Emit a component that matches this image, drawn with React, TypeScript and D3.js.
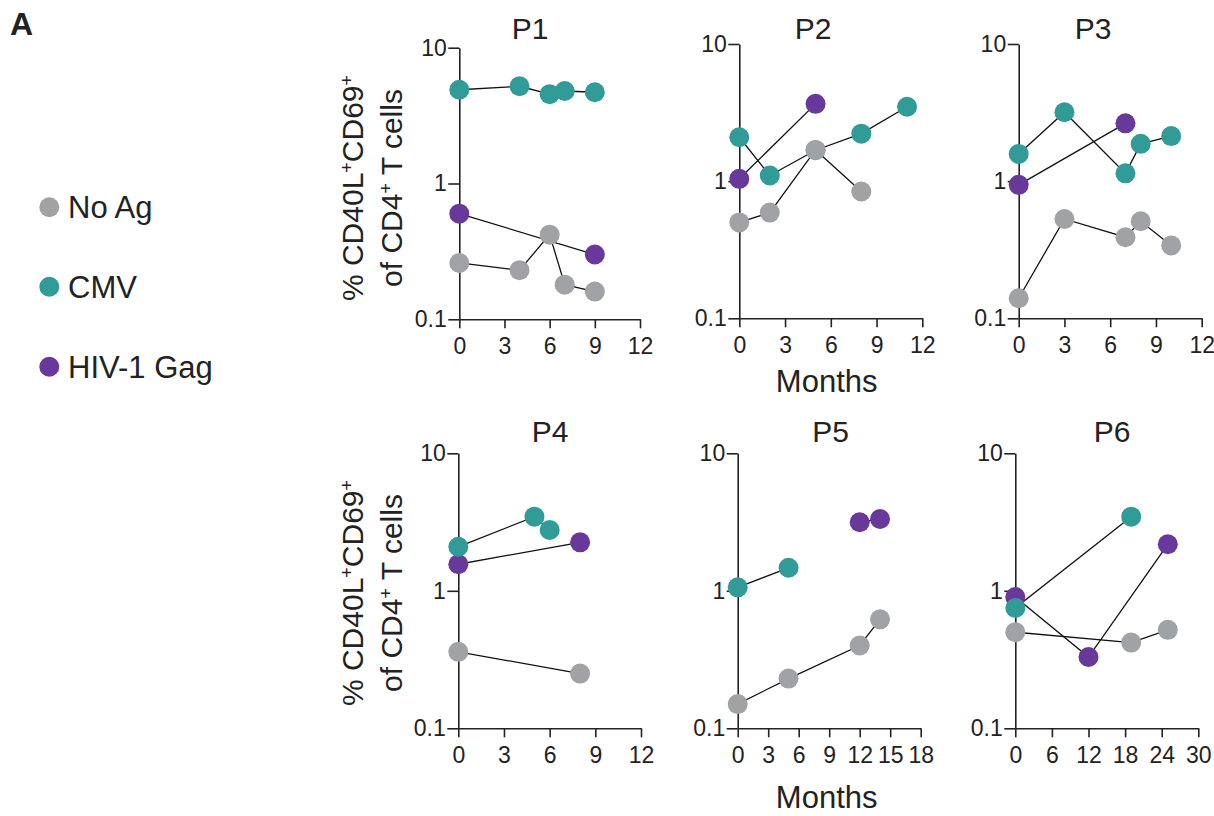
import React, { useEffect, useRef } from 'react';
import * as d3 from 'd3';

// series order = draw order of the markers (grey sits on top)
const seriesNames = ['No Ag', 'CMV', 'HIV-1 Gag'];
const seriesColors = ['#a1a2a6', '#309b97', '#69389b'];
const panelNames = ['P1', 'P2', 'P3', 'P4', 'P5', 'P6'];

// x tick labels (months) per panel
const ticksTo12 = [0, 3, 6, 9, 12];
const ticksTo18 = [0, 3, 6, 9, 12, 15, 18];
const ticksTo30 = [0, 6, 12, 18, 24, 30];
const yTicks = [0.1, 1, 10];

// [month, % CD40L+CD69+ of CD4+ T cells]
const p1NoAg = [[0, 0.26], [4, 0.23], [6, 0.42], [7, 0.18], [9, 0.16]];
const p1Cmv = [[0, 4.9], [4, 5.2], [6, 4.55], [7, 4.8], [9, 4.7]];
const p1Gag = [[0, 0.6], [9, 0.3]];

const p2NoAg = [[0, 0.5], [2, 0.59], [5, 1.69], [8, 0.84]];
const p2Cmv = [[0, 2.09], [2, 1.1], [5, 1.68], [8, 2.22], [11, 3.49]];
const p2Gag = [[0, 1.04], [5, 3.66]];

const p3NoAg = [[0, 0.14], [3, 0.53], [7, 0.39], [8, 0.51], [10, 0.34]];
const p3Cmv = [[0, 1.58], [3, 3.18], [7, 1.14], [8, 1.87], [10, 2.13]];
const p3Gag = [[0, 0.94], [7, 2.64]];

const p4NoAg = [[0, 0.36], [8, 0.25]];
const p4Cmv = [[0, 2.09], [5, 3.46], [6, 2.77]];
const p4Gag = [[0, 1.56], [8, 2.25]];

const p5NoAg = [[0, 0.15], [5, 0.23], [12, 0.4], [14, 0.62]];
const p5Cmv = [[0, 1.06], [5, 1.47]];
const p5Gag = [[12, 3.15], [14, 3.33]];

const p6NoAg = [[0, 0.5], [19, 0.42], [25, 0.52]];
const p6Cmv = [[0, 0.75], [19, 3.46]];
const p6Gag = [[0, 0.9], [12, 0.33], [25, 2.18]];

const panelSeries = [
  [p1NoAg, p1Cmv, p1Gag],
  [p2NoAg, p2Cmv, p2Gag],
  [p3NoAg, p3Cmv, p3Gag],
  [p4NoAg, p4Cmv, p4Gag],
  [p5NoAg, p5Cmv, p5Gag],
  [p6NoAg, p6Cmv, p6Gag],
];
const panelXTicks = [ticksTo12, ticksTo12, ticksTo12, ticksTo12, ticksTo18, ticksTo30];

// plot boxes in page pixels
const layout = [
  { x0: 459.3, x1: 640, y0: 319.3, y1: 47.7, tx: 530, ty: 38.5 },
  { x0: 739.3, x1: 922.3, y0: 318.3, y1: 44, tx: 813, ty: 38.5 },
  { x0: 1018.7, x1: 1201.7, y0: 318.3, y1: 44, tx: 1093, ty: 38.5 },
  { x0: 458.3, x1: 641, y0: 728.3, y1: 453.3, tx: 550, ty: 441.5 },
  { x0: 737.7, x1: 920.7, y0: 728.3, y1: 453.3, tx: 830.7, ty: 441.5 },
  { x0: 1015.3, x1: 1198.3, y0: 728.3, y1: 453.3, tx: 1112, ty: 441.5 },
];

const FONT = "'Liberation Sans', Arial, Helvetica, sans-serif";
const INK = '#222';

function drawChart(node) {
  const svg = d3.select(node);
  svg.selectAll('*').remove();

  svg.append('text')
    .attr('x', 10).attr('y', 35)
    .attr('font-family', FONT).attr('font-weight', 'bold').attr('font-size', 32)
    .attr('fill', INK).text('A');

  // legend
  const legY = [207.3, 286.7, 366.7];
  seriesNames.forEach((name, i) => {
    svg.append('circle').attr('cx', 49.3).attr('cy', legY[i]).attr('r', 10).attr('fill', seriesColors[i]);
    svg.append('text')
      .attr('x', 68).attr('y', legY[i] + 11)
      .attr('font-family', FONT).attr('font-size', 31).attr('fill', INK)
      .text(name);
  });

  panelSeries.forEach((series, i) => {
    const L = layout[i];
    const xt = panelXTicks[i];
    const x = d3.scaleLinear().domain([0, d3.max(xt)]).range([L.x0, L.x1]);
    const y = d3.scaleLog().domain([0.1, 10]).range([L.y0, L.y1]);
    const g = svg.append('g');

    const xAxis = g.append('g')
      .attr('transform', `translate(0,${L.y0})`)
      .call(d3.axisBottom(x).tickValues(xt).tickSize(9).tickPadding(9.5).tickSizeOuter(0));
    const yAxis = g.append('g')
      .attr('transform', `translate(${L.x0},0)`)
      .call(d3.axisLeft(y).tickValues(yTicks).tickFormat(d3.format('~g')).tickSize(11).tickPadding(1.5).tickSizeOuter(0));
    [xAxis, yAxis].forEach(a => {
      a.attr('font-family', FONT).attr('font-size', 23);
      a.selectAll('.domain, line').attr('stroke', INK).attr('stroke-width', 1.6);
      a.selectAll('text').attr('fill', INK);
    });

    g.append('text')
      .attr('x', L.tx).attr('y', L.ty)
      .attr('text-anchor', 'middle')
      .attr('font-family', FONT).attr('font-size', 30).attr('fill', INK)
      .text(panelNames[i]);

    const line = d3.line().x(d => x(d[0])).y(d => y(d[1]));
    series.forEach(s => {
      g.append('path').attr('d', line(s)).attr('fill', 'none').attr('stroke', '#111').attr('stroke-width', 1.3);
    });
    // markers: Gag, then CMV, then No Ag on top
    [2, 1, 0].forEach(k => {
      g.selectAll(null).data(series[k]).join('circle')
        .attr('cx', d => x(d[0])).attr('cy', d => y(d[1]))
        .attr('r', 10).attr('fill', seriesColors[k]);
    });
  });

  // y labels for the left column
  [188, 593].forEach(cy => {
    const t = svg.append('g').attr('transform', `translate(363.3,${cy}) rotate(-90)`);
    const l1 = t.append('text').attr('text-anchor', 'middle')
      .attr('font-family', FONT).attr('font-size', 30).attr('fill', INK);
    l1.append('tspan').text('% CD40L');
    l1.append('tspan').attr('baseline-shift', 'super').attr('font-size', 18).text('+');
    l1.append('tspan').text('CD69');
    l1.append('tspan').attr('baseline-shift', 'super').attr('font-size', 18).text('+');
    const l2 = t.append('text').attr('text-anchor', 'middle').attr('y', 38.4)
      .attr('font-family', FONT).attr('font-size', 30).attr('fill', INK);
    l2.append('tspan').text('of CD4');
    l2.append('tspan').attr('baseline-shift', 'super').attr('font-size', 18).text('+');
    l2.append('tspan').text(' T cells');
  });

  // x labels for the middle column
  [392, 808].forEach(by => {
    svg.append('text')
      .attr('x', 826.7).attr('y', by)
      .attr('text-anchor', 'middle')
      .attr('font-family', FONT).attr('font-size', 31).attr('fill', INK)
      .text('Months');
  });
}

export default function App() {
  const ref = useRef(null);
  useEffect(() => {
    drawChart(ref.current);
  }, []);
  return (
    <svg
      ref={ref}
      width={1214}
      height={816}
      style={{ position: 'absolute', left: 0, top: 0, background: '#fff' }}
    />
  );
}
